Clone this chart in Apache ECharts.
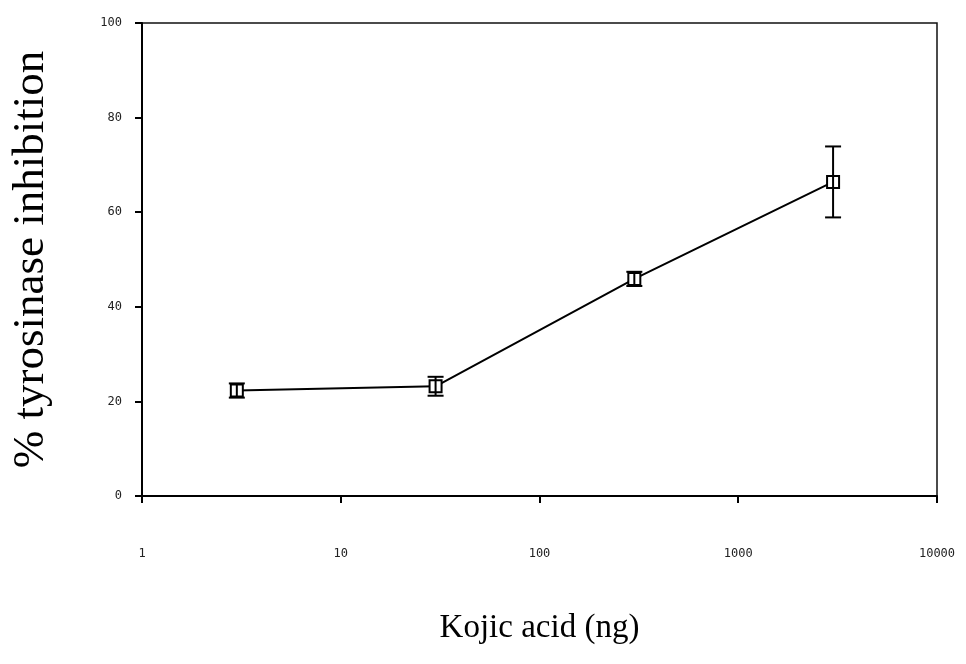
<!DOCTYPE html>
<html>
<head>
<meta charset="utf-8">
<script src="https://cdn.jsdelivr.net/npm/echarts@6/dist/echarts.min.js"></script>
<style>
html,body{margin:0;padding:0;background:#fff;}
#c{width:966px;height:664px;}
</style>
</head>
<body>
<div id="c"></div>
<script>
const doses = [3, 30, 300, 3000];
const inhibition = [22.3, 23.2, 45.9, 66.4];
const errors = [1.5, 2.0, 1.5, 7.5];
const xTickLabels = ['1', '10', '100', '1000', '10000'];
const yTickLabels = ['0', '20', '40', '60', '80', '100'];

const lineData = doses.map((d, i) => [d, inhibition[i]]);
const errData = doses.map((d, i) => [d, inhibition[i] - errors[i], inhibition[i] + errors[i]]);

const chart = echarts.init(document.getElementById('c'));
const tickFont = {fontFamily: 'DejaVu Sans Mono', fontSize: 12, color: '#222'};
chart.setOption({
  animation: false,
  backgroundColor: '#fff',
  grid: {left: 142, right: 29, top: 23, bottom: 168, show: true, borderColor: '#111', borderWidth: 1.5},
  xAxis: {
    type: 'log', logBase: 10, min: 1, max: 10000,
    axisLine: {lineStyle: {color: '#000', width: 2}},
    axisTick: {show: true, inside: false, length: 7, lineStyle: {color: '#000', width: 2}},
    minorTick: {show: false},
    splitLine: {show: false},
    axisLabel: Object.assign({margin: 52, formatter: v => { const i = Math.round(Math.log10(v)); return xTickLabels[i] ?? ''; }}, tickFont),
    name: 'Kojic acid (ng)', nameLocation: 'middle', nameGap: 116,
    nameTextStyle: {fontFamily: 'Liberation Serif', fontSize: 33, color: '#000'}
  },
  yAxis: {
    type: 'value', min: 0, max: 100, interval: 20,
    axisLine: {lineStyle: {color: '#000', width: 2}},
    axisTick: {show: true, length: 7, lineStyle: {color: '#000', width: 2}},
    splitLine: {show: false},
    axisLabel: Object.assign({margin: 20, formatter: v => yTickLabels[Math.round(v / 20)] ?? ''}, tickFont),
    name: '% tyrosinase inhibition', nameLocation: 'middle', nameGap: 88,
    nameTextStyle: {fontFamily: 'Liberation Serif', fontSize: 45, color: '#000'}
  },
  series: [
    {
      type: 'line', data: lineData,
      symbol: 'rect', symbolSize: 12,
      lineStyle: {color: '#000', width: 2},
      itemStyle: {color: '#fff', borderColor: '#000', borderWidth: 2},
      z: 3
    },
    {
      type: 'custom', data: errData, z: 4,
      renderItem: function (params, api) {
        const x = api.value(0);
        const lo = api.coord([x, api.value(1)]);
        const hi = api.coord([x, api.value(2)]);
        const w = 8;
        const st = {stroke: '#000', lineWidth: 2};
        return {type: 'group', children: [
          {type: 'line', shape: {x1: lo[0], y1: lo[1], x2: hi[0], y2: hi[1]}, style: st},
          {type: 'line', shape: {x1: lo[0] - w, y1: lo[1], x2: lo[0] + w, y2: lo[1]}, style: st},
          {type: 'line', shape: {x1: hi[0] - w, y1: hi[1], x2: hi[0] + w, y2: hi[1]}, style: st}
        ]};
      }
    }
  ]
});
</script>
</body>
</html>
